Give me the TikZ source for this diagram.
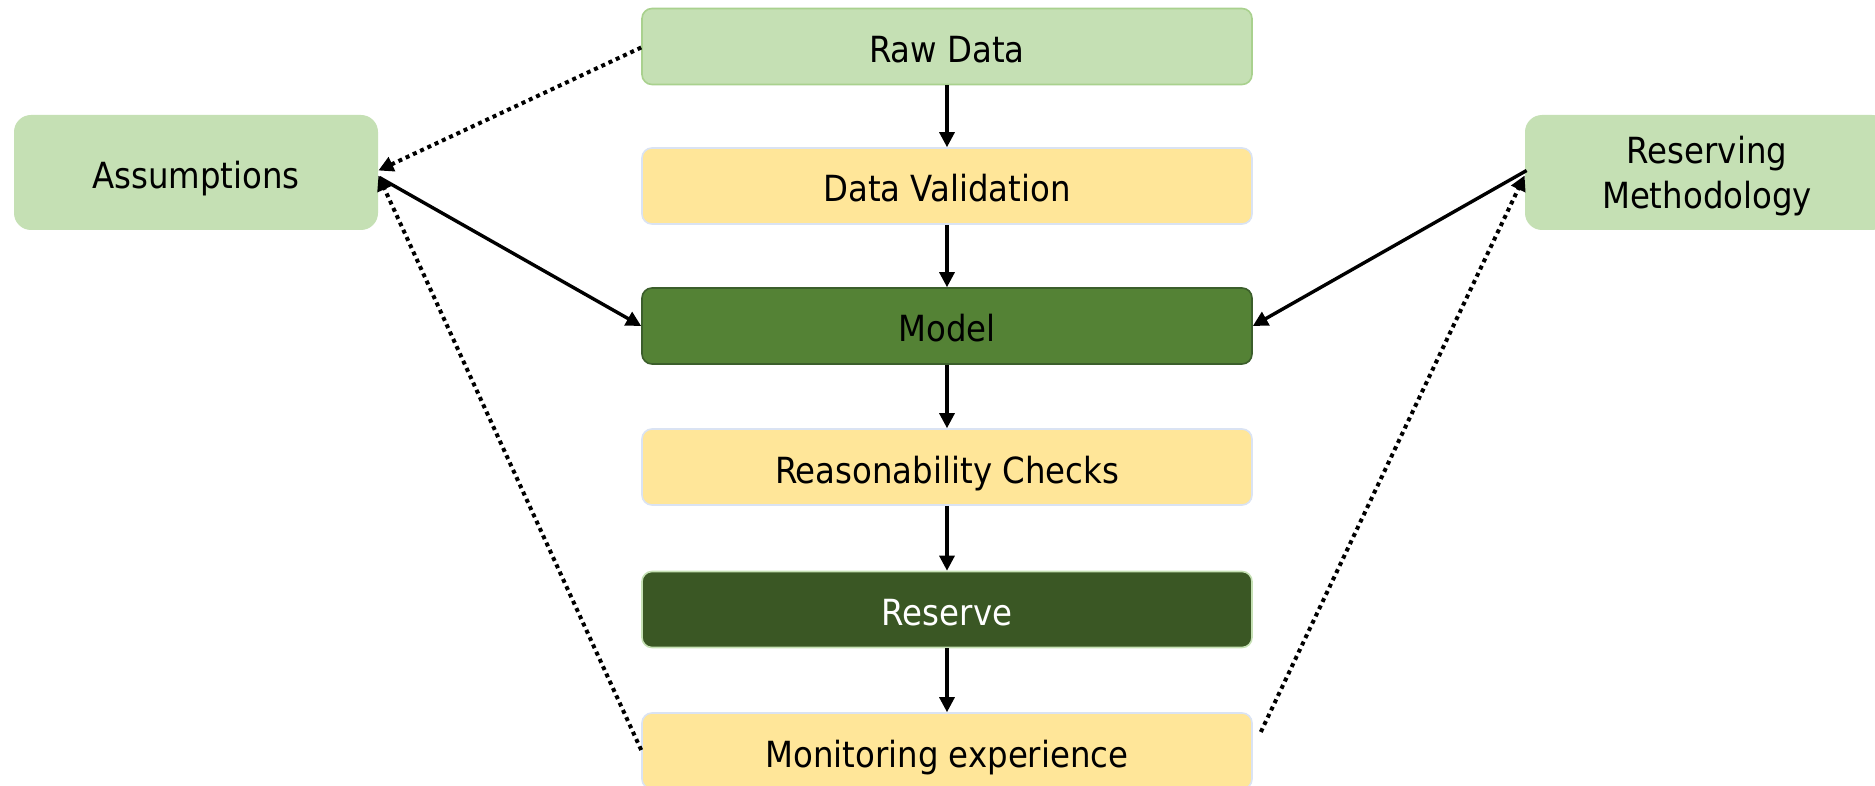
\documentclass[tikz,border=0pt]{standalone}
\usepackage{fontspec}
\setmainfont{DejaVu Sans Condensed}
\usetikzlibrary{arrows.meta,calc}

\definecolor{lightgreen}{HTML}{C5E0B4}
\definecolor{lightgreenline}{HTML}{A9D18E}
\definecolor{paleyellow}{HTML}{FFE699}
\definecolor{paleblue}{HTML}{DAE3F3}
\definecolor{midgreen}{HTML}{548235}
\definecolor{midgreenline}{HTML}{3B5E2B}
\definecolor{darkgreen}{HTML}{3A5724}

\tikzset{
  base/.style={rounded corners=5pt, minimum width=305pt, minimum height=38pt,
    inner sep=0pt, line width=0.8pt, text height=16pt, text depth=0pt,
    font=\fontsize{18}{22}\selectfont},
  rawbox/.style={base, fill=lightgreen, draw=lightgreenline},
  yellowbox/.style={base, fill=paleyellow, draw=paleblue},
  modelbox/.style={base, fill=midgreen, draw=midgreenline},
  reservebox/.style={base, fill=darkgreen, draw=lightgreen, text=white},
  sidebox/.style={rounded corners=8.5pt, minimum width=182pt, minimum height=57.5pt,
    inner sep=0pt, fill=lightgreen, align=center,
    font=\fontsize{18}{22.5}\selectfont},
  tip/.style={-{Triangle[length=7.5pt,width=7.5pt]}},
  flow/.style={line width=1.6pt, tip},
  feed/.style={line width=1.7pt, tip},
  dots/.style={line width=2pt, dash pattern=on 2pt off 2pt, tip}
}

\begin{document}
\begin{tikzpicture}[x=0.5pt,y=-0.5pt]
  \clip (0,0) rectangle (1875,786);
  \fill[white] (0,0) rectangle (1875,786);

  % central process chain
  \node[rawbox]     (raw)    at (947,46.5)  {Raw Data};
  \node[yellowbox]  (valid)  at (947,186)   {Data Validation};
  \node[modelbox]   (model)  at (947,326)   {Model};
  \node[yellowbox]  (checks) at (947,467)   {Reasonability Checks};
  \node[reservebox] (res)    at (947,609.5) {Reserve};
  \node[yellowbox]  (mon)    at (947,751)   {Monitoring experience};

  % side inputs
  \node[sidebox, text height=16pt, text depth=0pt] (assump) at (196,172.5) {Assumptions};
  \node[sidebox, text height=39pt, text depth=3pt] (meth) at (1707,172.5) {Reserving\\Methodology};

  % main flow
  \draw[flow] (raw.south)    -- (valid.north);
  \draw[flow] (valid.south)  -- (model.north);
  \draw[flow] (model.south)  -- (checks.north);
  \draw[flow] (checks.south) -- (res.north);
  \draw[flow] (res.south)    -- (mon.north);

  % inputs into the model
  \draw[feed] ($(assump.east)+(1,5)$) -- (model.west);
  \draw[feed] ($(meth.west)+(2,-2)$) -- (model.east);

  % feedback loops
  \draw[dots] ($(raw.west)+(0,1)$) -- ($(assump.east)+(0,-2)$);
  \draw[dots] ($(mon.west)+(0,-1)$) -- ($(assump.east)+(0,3)$);
  \draw[dots] ($(mon.east)+(8,-19)$) -- ($(meth.west)+(0,3)$);
\end{tikzpicture}
\end{document}
